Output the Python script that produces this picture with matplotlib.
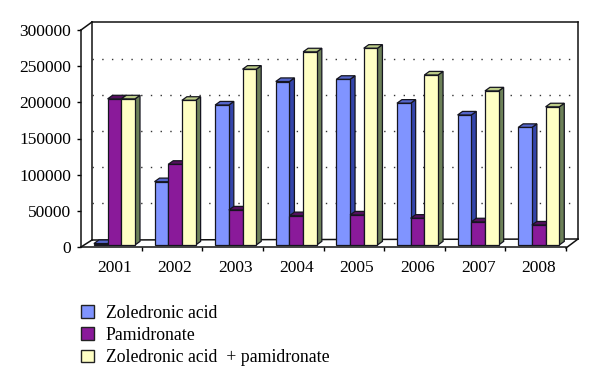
import matplotlib
matplotlib.use("Agg")
import matplotlib.pyplot as plt
import numpy as np
from matplotlib.patches import Polygon, Patch
from matplotlib.lines import Line2D
from matplotlib.transforms import IdentityTransform

plt.rcParams['font.family'] = ['Liberation Serif', 'DejaVu Serif']

years = ['2001', '2002', '2003', '2004', '2005', '2006', '2007', '2008']
zoledronic = [2000, 87500, 193500, 226000, 229000, 196000, 179700, 162500]
pamidronate = [202000, 111500, 48400, 40500, 41500, 37000, 32000, 27600]
combined = [202000, 200000, 243000, 267000, 272000, 235000, 213000, 191000]
names = ['Zoledronic acid', 'Pamidronate', 'Zoledronic acid  + pamidronate']
y_ticks = [0, 50000, 100000, 150000, 200000, 250000, 300000]

W, H = 600, 391
fig = plt.figure(figsize=(W / 100, H / 100), dpi=100)

# front face of the box: x 81-566, y 247-30 in image pixels
ax = fig.add_axes([81 / W, 1 - 247 / H, (566 - 81) / W, (247 - 30) / H])
ax.patch.set_visible(False)
ax.set_xlim((81 - 114.5) / 60.7, (566 - 114.5) / 60.7)
ax.set_ylim(0, 300000)
for s in ['top', 'right']:
    ax.spines[s].set_visible(False)
for s in ['left', 'bottom']:
    ax.spines[s].set_linewidth(1.1)
    ax.spines[s].set_color('#111111')

ax.set_xticks(range(len(years)))
ax.set_xticklabels(years, fontsize=12.5)
ax.tick_params(axis='x', which='major', length=0, pad=9)
ax.set_xticks(np.arange(len(years)) + 0.45, minor=True)
ax.tick_params(axis='x', which='minor', length=3, width=1)
ax.set_yticks(y_ticks)
ax.set_yticklabels([str(v) for v in y_ticks], fontsize=12.5)
ax.tick_params(axis='y', length=3, width=1, pad=4)


def box_line(x0, y0, x1, y1, **kw):
    style = dict(color='#111111', lw=1.1, zorder=1)
    style.update(kw)
    fig.add_artist(Line2D([x0, x1], [H - y0, H - y1], transform=IdentityTransform(), **style))


# back wall and floor
box_line(81, 30, 92, 22)
box_line(92, 22, 578, 22)
box_line(92, 22, 92, 240)
box_line(578, 22, 578, 239)
box_line(81, 247, 92, 240)
box_line(92, 240, 578, 239)
box_line(566, 248, 578, 239)

# dotted gridlines on the back wall
to_disp = ax.transData.transform
for v in y_ticks[1:-1]:
    yb = to_disp((0, v))[1] + 7.5
    fig.add_artist(Line2D([92, 578], [yb, yb], transform=IdentityTransform(), color='#333333',
                          lw=1.0, ls=(0, (1, 6)), zorder=1))

series = [
    (zoledronic, -1, '#8094FF', '#3344AA', '#5566CC'),
    (pamidronate, 0, '#8A1A9A', '#4A0A55', '#55105F'),
    (combined, 1, '#FFFFC4', '#6C8058', '#BCCC88'),
]
bar_w = 0.226
lift = 2        # bars stand slightly behind the front axis line
dx, dy = 5, 3.6

# draw from the left so neighbours hide the side faces
for i in range(len(years)):
    for vals, pos, face, side, top in series:
        x0 = i + pos * bar_w - bar_w / 2
        x1 = x0 + bar_w
        l, b = to_disp((x0, 0))
        r, t = to_disp((x1, vals[i]))
        b += lift
        t += lift
        for pts, col in [([(r, b), (r + dx, b + dy), (r + dx, t + dy), (r, t)], side),
                         ([(l, t), (r, t), (r + dx, t + dy), (l + dx, t + dy)], top),
                         ([(l, b), (r, b), (r, t), (l, t)], face)]:
            fig.add_artist(Polygon(pts, closed=True, facecolor=col, edgecolor='#15151f', lw=0.9,
                                   transform=IdentityTransform(), zorder=3))

handles = [Patch(facecolor=c[2], edgecolor='#222222', lw=1.0) for c in series]
fig.legend(handles, names, loc='upper left', bbox_to_anchor=(81 / W, 1 - 304.5 / H), frameon=False,
           fontsize=12.8, handlelength=0.73, handleheight=0.73, handletextpad=0.67,
           labelspacing=0.3, borderpad=0, borderaxespad=0)

fig.savefig('out.png', dpi=100, facecolor='white')
